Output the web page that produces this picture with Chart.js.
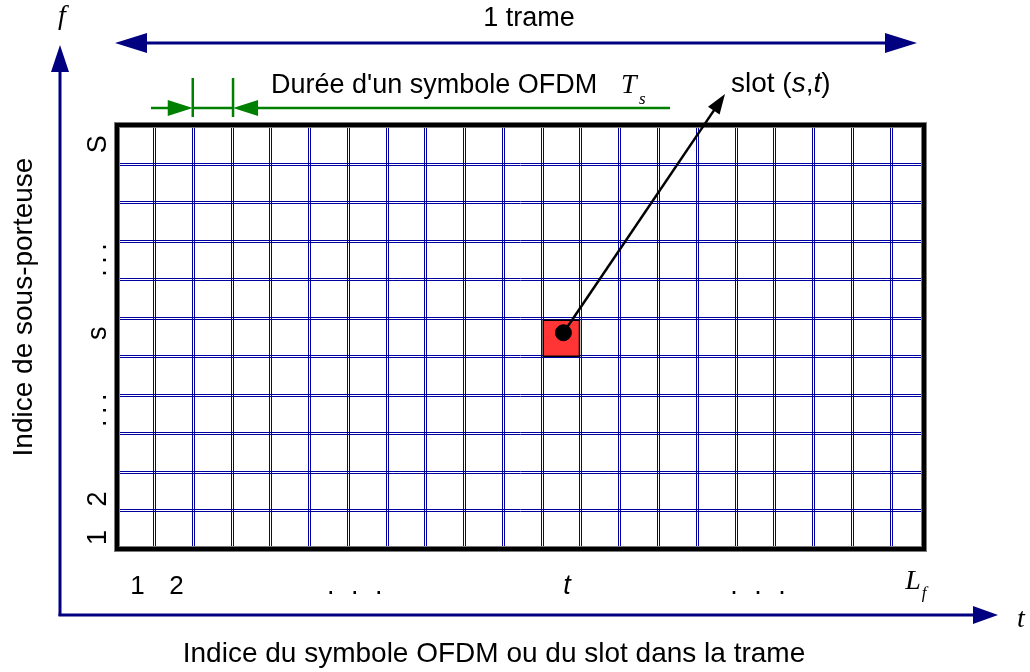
<!DOCTYPE html>
<html>
<head>
<meta charset="utf-8">
<script src="https://cdn.jsdelivr.net/npm/chart.js@4/dist/chart.umd.min.js"></script>
<style>
  html, body { margin: 0; padding: 0; background: #fff; }
  #wrap { width: 1030px; height: 672px; position: relative; }
</style>
</head>
<body>
<div id="wrap"><canvas id="frameChart"></canvas></div>
<script>
// Trame OFDM : 21 symboles (colonnes) x 11 sous-porteuses (lignes)
const symbolLines = [1, 2, 3, 4, 5, 6, 7, 8, 9, 10, 11, 12, 13, 14, 15, 16, 17, 18, 19, 20];
const carrierLines = [1, 2, 3, 4, 5, 6, 7, 8, 9, 10];
const rowLabelPos = [0.3, 1.3, 3.6, 5.6, 7.5, 10.5];
const rowLabels = ['1', '2', '...', 's', '...', 'S'];
const colLabelPos = [1, 2, 6.6, 12, 17, 21];
const colLabels = ['1', '2', '...', 't', '...', 'Lf'];
const slot = [12, 6]; // (t, s)

const SANS = '"Liberation Sans", Arial, sans-serif';
const SERIF = '"Liberation Serif", "Times New Roman", serif';
const NAVY = '#000080';
const GREEN = '#008000';

function arrowHead(ctx, x, y, ang, len, half, color) {
  ctx.save();
  ctx.translate(x, y);
  ctx.rotate(ang);
  ctx.fillStyle = color;
  ctx.beginPath();
  ctx.moveTo(0, 0);
  ctx.lineTo(-len, -half);
  ctx.lineTo(-len, half);
  ctx.closePath();
  ctx.fill();
  ctx.restore();
}

function line(ctx, x1, y1, x2, y2, w, color) {
  ctx.strokeStyle = color;
  ctx.lineWidth = w;
  ctx.beginPath();
  ctx.moveTo(x1, y1);
  ctx.lineTo(x2, y2);
  ctx.stroke();
}

function dots(ctx, cx, y, gap) {
  [-1, 0, 1].forEach(k => ctx.fillText('.', cx + k * gap, y));
}

const framePlugin = {
  id: 'frame',
  beforeDatasetsDraw(chart) {
    const { ctx, chartArea: a, scales: { x, y } } = chart;
    ctx.save();
    // double grid lines
    symbolLines.forEach(v => {
      const p = Math.round(x.getPixelForValue(v));
      [p - 0.5, p + 1.5].forEach(q => line(ctx, q, a.top, q, a.bottom, 1, '#0000a0'));
    });
    carrierLines.forEach(v => {
      const p = Math.round(y.getPixelForValue(v));
      [p - 0.5, p + 1.5].forEach(q => line(ctx, a.left, q, a.right, q, 1, '#0000a0'));
    });
    // slot (s,t)
    const x0 = x.getPixelForValue(slot[0] - 1) + 1.5;
    const x1 = x.getPixelForValue(slot[0]) - 1;
    const y0 = y.getPixelForValue(slot[1]) + 2.5;
    const y1 = y.getPixelForValue(slot[1] - 1);
    ctx.fillStyle = '#ff3535';
    ctx.fillRect(x0, y0, x1 - x0, y1 - y0);
    ctx.strokeStyle = '#000';
    ctx.lineWidth = 1.5;
    ctx.strokeRect(x0, y0, x1 - x0, y1 - y0);
    ctx.restore();
  },
  afterDatasetsDraw(chart) {
    const { ctx, chartArea: a, scales: { x, y } } = chart;
    ctx.save();

    // outer frame border
    ctx.strokeStyle = '#7a7a7a';
    ctx.lineWidth = 6;
    ctx.strokeRect(a.left, a.top, a.right - a.left, a.bottom - a.top);
    ctx.strokeStyle = '#000';
    ctx.lineWidth = 4;
    ctx.strokeRect(a.left, a.top, a.right - a.left, a.bottom - a.top);

    // axes f and t
    line(ctx, 60, 616, 60, 66, 3, NAVY);
    arrowHead(ctx, 60, 45, -Math.PI / 2, 27, 9, NAVY);
    line(ctx, 58.5, 615, 978, 615, 3, NAVY);
    arrowHead(ctx, 998, 615, 0, 25, 9, NAVY);

    // 1 trame
    const tL = a.left - 2, tR = a.right - 7;
    line(ctx, tL + 20, 43, tR - 20, 43, 3, NAVY);
    arrowHead(ctx, tL, 43, Math.PI, 32, 10, NAVY);
    arrowHead(ctx, tR, 43, 0, 32, 10, NAVY);

    // symbol duration (green)
    const g1 = x.getPixelForValue(2), g2 = x.getPixelForValue(3) + 1.5;
    line(ctx, 151, 108, g1 - 10, 108, 2.5, GREEN);
    line(ctx, g1, 108, g2, 108, 2.5, GREEN);
    line(ctx, g2 + 10, 108, 670, 108, 2.5, GREEN);
    line(ctx, g1, 78, g1, 117, 2.5, GREEN);
    line(ctx, g2, 78, g2, 117, 2.5, GREEN);
    arrowHead(ctx, g1, 108, 0, 25, 8, GREEN);
    arrowHead(ctx, g2, 108, Math.PI, 25, 8, GREEN);

    // slot pointer
    const dot = chart.getDatasetMeta(0).data[0];
    const tipX = 725, tipY = 94;
    const ang = Math.atan2(tipY - dot.y, tipX - dot.x);
    line(ctx, dot.x, dot.y, tipX - 14 * Math.cos(ang), tipY - 14 * Math.sin(ang), 2.5, '#000');
    arrowHead(ctx, tipX, tipY, ang, 20, 7, '#000');

    // texts
    ctx.fillStyle = '#000';
    ctx.textBaseline = 'alphabetic';
    ctx.font = '27px ' + SANS;
    ctx.textAlign = 'center';
    ctx.fillText('1 trame', 529, 26);

    ctx.textAlign = 'left';
    ctx.fillText("Durée d'un symbole OFDM", 271, 93);
    ctx.font = 'italic 28px ' + SERIF;
    ctx.fillText('T', 621, 93);
    ctx.font = 'italic 17px ' + SERIF;
    ctx.fillText('s', 639, 104);

    // slot (s,t)
    let sx = 731;
    [['slot (', ''], ['s', 'italic '], [',', ''], ['t', 'italic '], [')', '']].forEach(([t, st]) => {
      ctx.font = st + '28px ' + SANS;
      ctx.fillText(t, sx, 92);
      sx += ctx.measureText(t).width;
    });

    // f, t axis names
    ctx.font = 'italic 28px ' + SERIF;
    ctx.textAlign = 'center';
    ctx.fillText('f', 62, 24);
    ctx.fillText('t', 1021, 627);

    // column labels
    colLabels.forEach((lab, i) => {
      const cx = x.getPixelForValue(colLabelPos[i] - 0.5) + 3;
      if (lab === '...') {
        ctx.font = '27px ' + SANS;
        dots(ctx, cx, 594, 24);
      } else if (lab === 't') {
        ctx.font = 'italic 27px ' + SANS;
        ctx.fillText(lab, cx + 3, 594);
      } else if (lab === 'Lf') {
        ctx.font = 'italic 28px ' + SERIF;
        ctx.fillText('L', cx, 589);
        ctx.font = 'italic 17px ' + SERIF;
        ctx.fillText('f', cx + 11, 598);
      } else {
        ctx.font = '26px ' + SANS;
        ctx.fillText(lab, cx, 594);
      }
    });

    // row labels (rotated)
    ctx.font = '27px ' + SANS;
    rowLabels.forEach((lab, i) => {
      const cy = y.getPixelForValue(rowLabelPos[i]);
      ctx.save();
      ctx.translate(106, cy);
      ctx.rotate(-Math.PI / 2);
      ctx.textAlign = 'center';
      if (lab === '...') dots(ctx, 0, 0, 13);
      else ctx.fillText(lab, 0, 0);
      ctx.restore();
    });

    // axis titles
    ctx.save();
    ctx.translate(32, 307);
    ctx.rotate(-Math.PI / 2);
    ctx.textAlign = 'center';
    ctx.font = '28px ' + SANS;
    ctx.fillText('Indice de sous-porteuse', 0, 0);
    ctx.restore();

    ctx.textAlign = 'center';
    ctx.font = '28px ' + SANS;
    ctx.fillText('Indice du symbole OFDM ou du slot dans la trame', 494, 662);

    ctx.restore();
  }
};

const frameChart = new Chart(document.getElementById('frameChart'), {
  type: 'scatter',
  data: {
    datasets: [{
      label: 'slot',
      data: [{ x: slot[0] - 0.5 + 0.06, y: slot[1] - 0.5 + 0.11 }],
      pointRadius: 8,
      pointHoverRadius: 8,
      backgroundColor: '#000',
      borderColor: '#000'
    }]
  },
  options: {
    responsive: true,
    maintainAspectRatio: false,
    animation: false,
    events: [],
    layout: { padding: { left: 117, right: 106, top: 125, bottom: 123 } },
    scales: {
      x: { type: 'linear', display: false, min: 0.046, max: 20.86 },
      y: { type: 'linear', display: false, min: 0, max: 11 }
    },
    plugins: { legend: { display: false }, tooltip: { enabled: false } }
  },
  plugins: [framePlugin]
});
</script>
</body>
</html>
